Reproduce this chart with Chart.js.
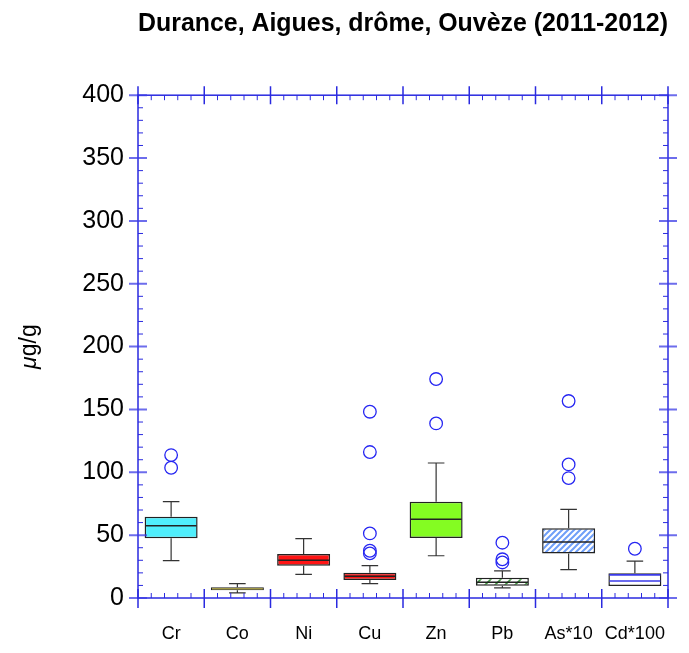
<!DOCTYPE html>
<html>
<head>
<meta charset="utf-8">
<script src="https://cdn.jsdelivr.net/npm/chart.js@4.4.1/dist/chart.umd.min.js"></script>
<style>
  html, body { margin: 0; padding: 0; background: #ffffff; }
  canvas { display: block; }
</style>
</head>
<body>
<canvas id="c" width="689" height="653"></canvas>
<script>
// ---- data ----
const categories = ['Cr', 'Co', 'Ni', 'Cu', 'Zn', 'Pb', 'As*10', 'Cd*100'];
const whiskerLow  = [29.7, 4.0, 18.8, 11.4, 33.6, 8.0, 22.5, 9.5];
const q1          = [47.5, 6.1, 25.7, 14.3, 47.7, 9.8, 35.5, 9.5];
const medians     = [57.5, 7.4, 30.0, 17.3, 62.6, 12.5, 44.5, 13.5];
const q3          = [64.7, 8.5, 35.0, 20.1, 76.6, 16.2, 55.4, 19.6];
const whiskerHigh = [76.6, 11.4, 47.2, 25.7, 107.4, 21.5, 70.5, 29.4];
const outCr = [103.6, 113.7];
const outCo = [];
const outNi = [];
const outCu = [35.5, 37.6, 51.4, 116.1, 148.2];
const outZn = [138.9, 174.2];
const outPb = [28.3, 30.8, 44.0];
const outAs = [95.4, 106.3, 156.7];
const outCd = [39.2];
const yTicks = [0, 50, 100, 150, 200, 250, 300, 350, 400];

const outlierLists = [outCr, outCo, outNi, outCu, outZn, outPb, outAs, outCd];
const outlierPoints = [];
outlierLists.forEach((list, i) => list.forEach(v => outlierPoints.push({ x: categories[i], y: v })));

// ---- hatch patterns ----
function hatch(color, step, lw) {
  const c = document.createElement('canvas');
  c.width = step; c.height = step;
  const g = c.getContext('2d');
  g.fillStyle = '#ffffff';
  g.fillRect(0, 0, step, step);
  g.strokeStyle = color;
  g.lineWidth = lw;
  g.beginPath();
  g.moveTo(-1, step + 1); g.lineTo(step + 1, -1);
  g.moveTo(-1, 1); g.lineTo(1, -1);
  g.moveTo(step - 1, step + 1); g.lineTo(step + 1, step - 1);
  g.stroke();
  return g.createPattern(c, 'repeat');
}
const ctx = document.getElementById('c').getContext('2d');
const fills = ['#50eefc', '#b3a300', '#ff1414', '#ff1414', '#84fc22',
               hatch('#3a9a3a', 10, 1.6), hatch('#6f9ff8', 6, 2), '#ffffff'];
const borderWidths = [1.5, 1.1, 1.5, 1.5, 1.5, 1.5, 1.5, 1.5];

const AX = '#2a2ae0';

const boxPlugin = {
  id: 'boxparts',
  afterDatasetsDraw(chart) {
    const c = chart.ctx, xs = chart.scales.x, ys = chart.scales.y;
    const cw = xs.getPixelForValue(1) - xs.getPixelForValue(0);
    c.save();
    // whiskers
    c.strokeStyle = '#333333';
    c.lineWidth = 1.2;
    categories.forEach((cat, i) => {
      const x = xs.getPixelForValue(i);
      const cap = cw * 0.125;
      c.beginPath();
      c.moveTo(x, ys.getPixelForValue(q3[i])); c.lineTo(x, ys.getPixelForValue(whiskerHigh[i]));
      c.moveTo(x - cap, ys.getPixelForValue(whiskerHigh[i])); c.lineTo(x + cap, ys.getPixelForValue(whiskerHigh[i]));
      if (whiskerLow[i] < q1[i]) {
        c.moveTo(x, ys.getPixelForValue(q1[i])); c.lineTo(x, ys.getPixelForValue(whiskerLow[i]));
        c.moveTo(x - cap, ys.getPixelForValue(whiskerLow[i])); c.lineTo(x + cap, ys.getPixelForValue(whiskerLow[i]));
      }
      c.stroke();
    });
    // medians
    categories.forEach((cat, i) => {
      if (i === 1) return; // Co box too thin to show a separate median
      const x = xs.getPixelForValue(i);
      const half = cw * 0.4;
      const y = ys.getPixelForValue(medians[i]);
      c.strokeStyle = (i === 7) ? '#3a3ae8' : '#222222';
      c.lineWidth = 1.6;
      c.beginPath();
      c.moveTo(x - half + 1, y); c.lineTo(x + half - 1, y);
      c.stroke();
    });
    // Cd box top edge is blue in the reference
    const xc = xs.getPixelForValue(7), half = cw * 0.4, yt = ys.getPixelForValue(q3[7]);
    c.strokeStyle = '#3a3ae8';
    c.lineWidth = 1.6;
    c.beginPath();
    c.moveTo(xc - half + 1, yt + 1.5); c.lineTo(xc + half - 1, yt + 1.5);
    c.stroke();
    c.restore();
  },
  afterDraw(chart) {
    const c = chart.ctx, xs = chart.scales.x, ys = chart.scales.y;
    const a = chart.chartArea;
    c.save();
    // frame
    c.strokeStyle = AX;
    c.lineWidth = 1.5;
    c.strokeRect(a.left, a.top, a.right - a.left, a.bottom - a.top);
    // y ticks (left and right)
    for (let v = 0; v <= 400; v += 10) {
      const y = ys.getPixelForValue(v);
      if (v % 50 === 0) {
        c.strokeStyle = 'rgba(60,60,230,0.75)';
        c.lineWidth = 2;
        c.beginPath();
        c.moveTo(a.left - 9, y); c.lineTo(a.left + 9, y);
        c.moveTo(a.right - 9, y); c.lineTo(a.right + 9, y);
        c.stroke();
      } else {
        c.strokeStyle = AX;
        c.lineWidth = 1;
        c.beginPath();
        c.moveTo(a.left, y); c.lineTo(a.left + 5, y);
        c.moveTo(a.right, y); c.lineTo(a.right - 5, y);
        c.stroke();
      }
    }
    // x ticks (bottom and top)
    const cw = xs.getPixelForValue(1) - xs.getPixelForValue(0);
    for (let i = 0; i <= categories.length; i++) {
      const xb = xs.getPixelForValue(i) - cw / 2;
      c.strokeStyle = AX;
      c.lineWidth = 1.5;
      c.beginPath();
      c.moveTo(xb, a.bottom - 9); c.lineTo(xb, a.bottom + 10);
      c.moveTo(xb, a.top - 9); c.lineTo(xb, a.top + 9);
      c.stroke();
      if (i < categories.length) {
        c.lineWidth = 1;
        c.beginPath();
        for (let k = 1; k < 5; k++) {
          const xm = xb + cw * k / 5;
          c.moveTo(xm, a.bottom); c.lineTo(xm, a.bottom - 5);
          c.moveTo(xm, a.top); c.lineTo(xm, a.top + 5);
        }
        c.stroke();
      }
    }
    // y-axis title with italic mu
    c.translate(30, (a.top + a.bottom) / 2);
    c.rotate(-Math.PI / 2);
    c.fillStyle = '#000';
    c.textBaseline = 'middle';
    c.textAlign = 'left';
    c.font = 'italic 23px "Liberation Sans", Arial, sans-serif';
    const mu = '\u03bc';
    const w1 = c.measureText(mu).width;
    c.font = '23px "Liberation Sans", Arial, sans-serif';
    const w2 = c.measureText('g/g').width;
    const start = -(w1 + w2) / 2;
    c.font = 'italic 23px "Liberation Sans", Arial, sans-serif';
    c.fillText(mu, start, 0);
    c.font = '23px "Liberation Sans", Arial, sans-serif';
    c.fillText('g/g', start + w1, 0);
    c.restore();
  }
};

new Chart(ctx, {
  type: 'bar',
  data: {
    labels: categories,
    datasets: [
      {
        type: 'bar',
        data: q1.map((v, i) => [v, q3[i]]),
        backgroundColor: fills,
        borderColor: '#222222',
        borderWidth: borderWidths,
        borderSkipped: false,
        barPercentage: 0.8,
        categoryPercentage: 1,
        order: 2
      },
      {
        type: 'line',
        data: outlierPoints,
        showLine: false,
        pointRadius: 6.3,
        pointHoverRadius: 6.3,
        pointBorderColor: '#2626f2',
        pointBackgroundColor: 'rgba(0,0,0,0)',
        pointBorderWidth: 1.3,
        order: 1
      }
    ]
  },
  options: {
    responsive: false,
    animation: false,
    events: [],
    layout: { padding: { left: 0, right: 21, top: 0, bottom: 0 } },
    plugins: {
      legend: { display: false },
      tooltip: { enabled: false },
      title: {
        display: true,
        fullSize: false,
        text: 'Durance, Aigues, drôme, Ouvèze (2011-2012)',
        color: '#000',
        font: { family: '"Liberation Sans", Arial, sans-serif', size: 26, weight: 'bold', lineHeight: 1.2 },
        padding: { top: 8, bottom: 56 }
      }
    },
    scales: {
      x: {
        type: 'category',
        offset: true,
        grid: { display: false },
        border: { display: false },
        ticks: {
          color: '#000',
          font: { family: '"Liberation Sans", Arial, sans-serif', size: 18 },
          padding: 17,
          maxRotation: 0,
          autoSkip: false
        },
        afterFit(s) { s.height = 55; }
      },
      y: {
        min: 0,
        max: 400,
        grid: { display: false },
        border: { display: false },
        afterBuildTicks(s) { s.ticks = yTicks.map(v => ({ value: v })); },
        ticks: {
          color: '#000',
          font: { family: '"Liberation Sans", Arial, sans-serif', size: 25 },
          padding: 6
        },
        afterFit(s) { s.width = 138; }
      }
    }
  },
  plugins: [boxPlugin]
});
</script>
</body>
</html>
